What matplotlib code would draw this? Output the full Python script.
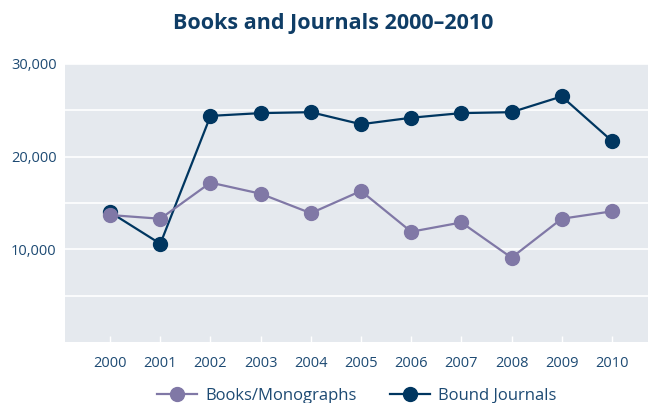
import matplotlib
matplotlib.use('agg')

from matplotlib import rc
rc('font', family=['Open Sans', 'DejaVu Sans'], size=10)

from matplotlib import pyplot as plt
import numpy as np

years = [2000, 2001, 2002, 2003, 2004, 2005, 2006, 2007, 2008, 2009, 2010]
books = [13700, 13300, 17200, 16000, 13900, 16300, 11900, 12900, 9100, 13300, 14100]
journals = [14000, 10600, 24400, 24700, 24800, 23500, 24200, 24700, 24800, 26500, 21700]
ytick_vals = [10000, 20000, 30000]
ytick_labels = ['10,000', '20,000', '30,000']

navy = '#003660'
purple = '#8078a6'
text_col = '#1d4a73'
bg = '#e5e9ee'

fig = plt.figure(figsize=[6.48, 4.03], dpi=100)
ax = fig.add_axes([65 / 648, 1 - 342 / 403, 1 - 65 / 648, (342 - 64) / 403])
ax.set_facecolor(bg)

ax.plot(years, books, '-o', color=purple, linewidth=1.6, markersize=10,
        label='Books/Monographs', zorder=3)
ax.plot(years, journals, '-o', color=navy, linewidth=1.6, markersize=10,
        label='Bound Journals', zorder=2)

ax.set_xlim(1999.1, 2010.72)
ax.set_ylim(0, 30000)
ax.set_yticks(np.arange(5000, 30000, 5000), minor=True)
ax.set_yticks(ytick_vals)
ax.set_yticklabels(ytick_labels)
ax.set_xticks(years)
ax.set_xticklabels([str(y) for y in years])
ax.grid(True, axis='y', which='both', color='white', linewidth=1.2)
ax.set_axisbelow(True)
for s in ax.spines.values():
    s.set_visible(False)
ax.tick_params(axis='y', which='both', length=0, colors=text_col, labelsize=10.5, pad=6)
ax.tick_params(axis='x', direction='in', length=4, width=1,
               colors=text_col, labelsize=10.5, pad=10)
ax.tick_params(axis='x', color='white')

fig.text(333 / 648, 1 - 24 / 403, 'Books and Journals 2000\u20132010',
         ha='center', va='center', fontsize=15.5, fontweight='bold', color='#0f3d66')

leg = fig.legend(loc='center', bbox_to_anchor=(357 / 648, 1 - 396 / 403), ncol=2,
                 frameon=False, fontsize=12, handlelength=2.4, columnspacing=2.0,
                 handletextpad=0.5, labelcolor=text_col)

fig.savefig('out.png', dpi=100)
